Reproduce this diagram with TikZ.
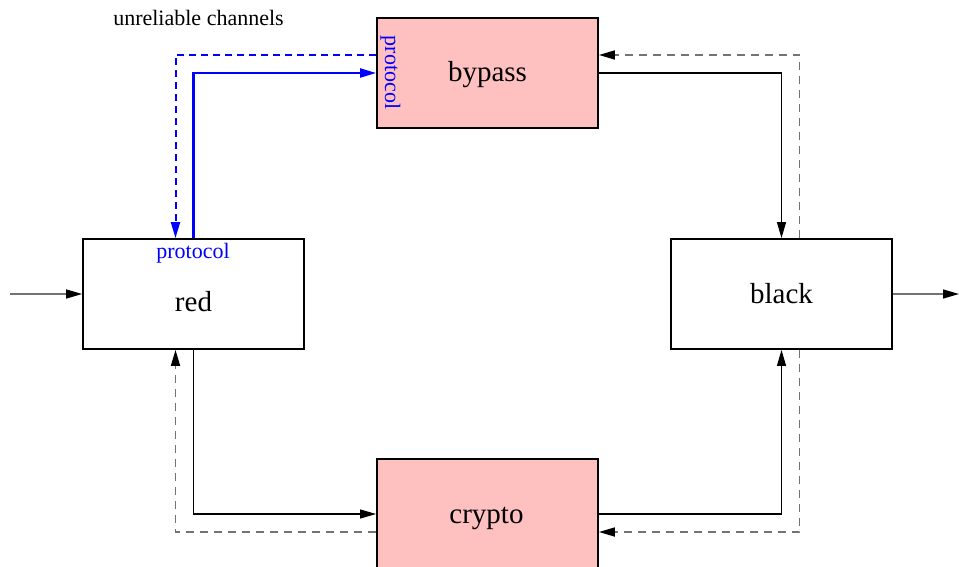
\documentclass[tikz,border=0pt]{standalone}
\usepackage{fontspec}
\setmainfont{Liberation Serif}
\usetikzlibrary{arrows.meta,calc}
\definecolor{boxpink}{RGB}{255,192,192}
\definecolor{wireblue}{RGB}{0,0,255}
\begin{document}
\begin{tikzpicture}[x=1pt,y=-1pt,
  blockbox/.style={draw=black,line width=1.8pt,minimum width=221pt,minimum height=110pt,inner sep=0pt},
  biglabel/.style={anchor=base,inner sep=0pt,font=\fontsize{29}{34}\selectfont},
  smalllabel/.style={anchor=base,inner sep=0pt,font=\fontsize{22}{26}\selectfont},
  tip/.style={-{Triangle[length=16pt,width=9pt]}},
  feed/.style={draw=black!55,line width=1.4pt,-{Triangle[length=16pt,width=9pt,color=black,fill=black]}},
  flow/.style={draw=black,line width=1.1pt,tip},
  backflow/.style={draw=black!55,line width=1.7pt,dash pattern=on 8pt off 6pt,
    -{Triangle[length=16pt,width=9pt,color=black,fill=black]}},
  blueflow/.style={draw=wireblue,line width=2.2pt,tip},
  bluedash/.style={draw=wireblue,line width=2pt,dash pattern=on 7pt off 5pt,tip}
]
\useasboundingbox (0,0) rectangle (959,567);

% the four processing blocks
\node[blockbox,fill=boxpink] (bypass) at (487.5,73) {};
\node[blockbox] (red) at (193.5,294) {};
\node[blockbox] (black) at (781.5,294) {};
\node[blockbox,fill=boxpink] (crypto) at (487.5,514) {};

% block names
\node[biglabel] (bypasslbl) at (487.5,82) {bypass};
\node[biglabel] (redlbl) at (193.5,311) {red};
\node[biglabel] (blacklbl) at (781.5,303) {black};
\node[biglabel] (cryptolbl) at (486.5,523) {crypto};

% protocol tags and caption
\node[smalllabel,text=wireblue] (protored) at (193,258) {protocol};
\node[smalllabel,text=wireblue,rotate=-90] (protobyp) at (385,72.5) {protocol};
\node[smalllabel] (caption) at (198.5,26) {unreliable channels};

% input and output
\coordinate (src) at (10,294);
\coordinate (sink) at (959,294);
\draw[feed] (src) -- (red.west);
\draw[feed] (black.east) -- (sink);

% data paths
\draw[flow] (bypass.east) -| (black.north);
\draw[flow] (red.south) |- (crypto.west);
\draw[flow] (crypto.east) -| (black.south);

% return paths
\draw[backflow] ([xshift=18pt]black.north) |- ([yshift=18pt]bypass.east);
\draw[backflow] ([yshift=-18pt]crypto.west) -| ([xshift=-18pt]red.south);
\draw[backflow] ([xshift=18pt]black.south) |- ([yshift=-18pt]crypto.east);

% protocol channels
\draw[blueflow] (red.north) |- (bypass.west);
\draw[bluedash] ([yshift=18pt]bypass.west) -| ([xshift=-18pt]red.north);
\end{tikzpicture}
\end{document}
